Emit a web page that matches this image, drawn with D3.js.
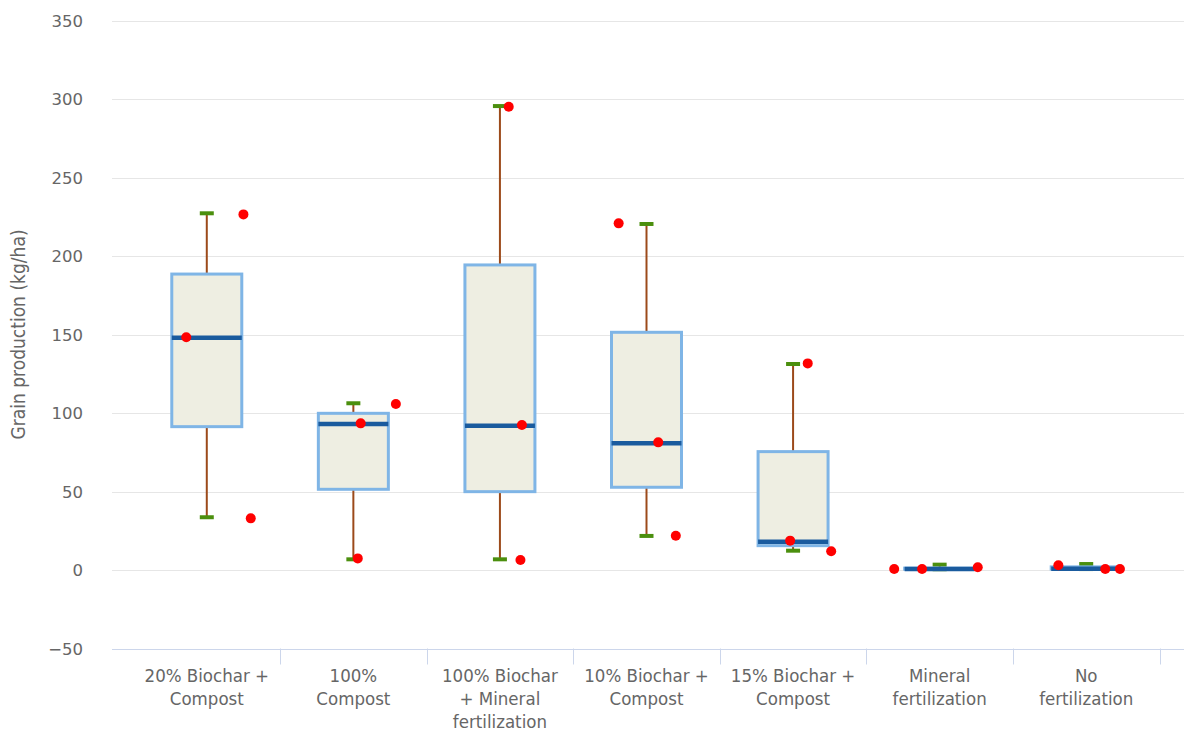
<!DOCTYPE html>
<html>
<head>
<meta charset="utf-8">
<script src="https://cdn.jsdelivr.net/npm/d3@7"></script>
<style>
  body { margin: 0; background: #fff; }
  svg { display: block; }
</style>
</head>
<body>
<div id="chart"></div>
<script>
const categories = [
  "20% Biochar + Compost",
  "100% Compost",
  "100% Biochar + Mineral fertilization",
  "10% Biochar + Compost",
  "15% Biochar + Compost",
  "Mineral fertilization",
  "No fertilization"
];
// label line breaks as shown
const categoryLines = [
  ["20% Biochar +", "Compost"],
  ["100%", "Compost"],
  ["100% Biochar", "+ Mineral", "fertilization"],
  ["10% Biochar +", "Compost"],
  ["15% Biochar +", "Compost"],
  ["Mineral", "fertilization"],
  ["No", "fertilization"]
];

// [low, q1, median, q3, high]
const boxLow    = [33.6,  6.8,  6.8, 21.7, 12.3, 0.5, 0.6];
const boxQ1     = [91.3, 51.4, 49.9, 52.7, 15.5, 0.5, 0.6];
const boxMedian = [148,  93,   91.9, 80.7, 18,   0.6, 0.8];
const boxQ3     = [188.5, 99.8, 194.3, 151.4, 75.4, 1.2, 2];
const boxHigh   = [227.2, 106.2, 295.5, 220.4, 131.2, 3.4, 3.8];

// observations, three per treatment
const obsValues = [
  [226.5, 148.2, 32.9],
  [105.7, 93.4, 7.4],
  [295.1, 92.4, 6.4],
  [220.8, 81.3, 21.8],
  [131.6, 18.7, 11.9],
  [0.6, 0.6, 1.7],
  [3, 0.6, 0.6]
];
// jitter in category units
const obsJitter = [
  [0.25, -0.14, 0.30],
  [0.29, 0.05, 0.03],
  [0.06, 0.15, 0.14],
  [-0.19, 0.08, 0.20],
  [0.10, -0.02, 0.26],
  [-0.31, -0.12, 0.26],
  [-0.19, 0.13, 0.23]
];

const yTicks = [-50, 0, 50, 100, 150, 200, 250, 300, 350];

const W = 1184, H = 731;
const plotLeft = 112, plotRight = 1184;

const svg = d3.select("#chart").append("svg")
  .attr("width", W)
  .attr("height", H);

const y = d3.scaleLinear().domain([-50, 350]).range([648.5, 20.5]);
const x = d3.scaleBand().domain(categories).range([133.5, 1159.5]).padding(0);
const bw = x.bandwidth();
const cx = i => x(categories[i]) + bw / 2;

// grid
svg.append("g").selectAll("line")
  .data(yTicks)
  .enter().append("line")
  .attr("x1", plotLeft).attr("x2", plotRight)
  .attr("y1", d => Math.round(y(d)) + 0.5)
  .attr("y2", d => Math.round(y(d)) + 0.5)
  .attr("stroke", "#e6e6e6")
  .attr("stroke-width", 1);

// y tick labels
svg.append("g").selectAll("text")
  .data(yTicks)
  .enter().append("text")
  .attr("x", 83)
  .attr("y", d => y(d) + 6)
  .attr("text-anchor", "end")
  .attr("font-family", "DejaVu Sans, sans-serif")
  .attr("font-size", "16.5px")
  .attr("fill", "#666")
  .text(d => d < 0 ? "\u2212" + Math.abs(d) : d);

// y title
svg.append("text")
  .attr("transform", `translate(25, ${y(150)}) rotate(-90)`)
  .attr("text-anchor", "middle")
  .attr("font-family", "Liberation Sans Narrow, DejaVu Sans Condensed, sans-serif")
  .attr("font-size", "19px")
  .attr("fill", "#666")
  .text("Grain production (kg/ha)");

// x axis line
svg.append("line")
  .attr("x1", plotLeft).attr("x2", plotRight)
  .attr("y1", Math.round(y(-50)) + 0.5).attr("y2", Math.round(y(-50)) + 0.5)
  .attr("stroke", "#ccd6eb")
  .attr("stroke-width", 1);

// x ticks at category boundaries
svg.append("g").selectAll("line")
  .data(categories)
  .enter().append("line")
  .attr("x1", d => Math.round(x(d) + bw) + 0.5)
  .attr("x2", d => Math.round(x(d) + bw) + 0.5)
  .attr("y1", y(-50))
  .attr("y2", y(-50) + 16)
  .attr("stroke", "#ccd6eb");

// x labels
const xl = svg.append("g").selectAll("text")
  .data(categoryLines)
  .enter().append("text")
  .attr("text-anchor", "middle")
  .attr("font-family", "Liberation Sans Narrow, DejaVu Sans Condensed, sans-serif")
  .attr("font-size", "18.5px")
  .attr("fill", "#666");
xl.each(function(lines, i) {
  d3.select(this).selectAll("tspan")
    .data(lines)
    .enter().append("tspan")
    .attr("x", cx(i))
    .attr("y", (d, j) => 682 + j * 23)
    .text(d => d);
});

// boxes
const boxW = 70, capW = 14;
const boxes = svg.append("g").selectAll("g")
  .data(categories)
  .enter().append("g");

// whisker stems
boxes.append("line")
  .attr("x1", (d, i) => cx(i)).attr("x2", (d, i) => cx(i))
  .attr("y1", (d, i) => y(boxHigh[i])).attr("y2", (d, i) => y(boxQ3[i]))
  .attr("stroke", "#9c4a1a").attr("stroke-width", 2);
boxes.append("line")
  .attr("x1", (d, i) => cx(i)).attr("x2", (d, i) => cx(i))
  .attr("y1", (d, i) => y(boxQ1[i])).attr("y2", (d, i) => y(boxLow[i]))
  .attr("stroke", "#9c4a1a").attr("stroke-width", 2);

// caps
boxes.append("line")
  .attr("x1", (d, i) => cx(i) - capW / 2).attr("x2", (d, i) => cx(i) + capW / 2)
  .attr("y1", (d, i) => y(boxHigh[i])).attr("y2", (d, i) => y(boxHigh[i]))
  .attr("stroke", "#4b8f0e").attr("stroke-width", 4);
boxes.append("line")
  .attr("x1", (d, i) => cx(i) - capW / 2).attr("x2", (d, i) => cx(i) + capW / 2)
  .attr("y1", (d, i) => y(boxLow[i])).attr("y2", (d, i) => y(boxLow[i]))
  .attr("stroke", "#4b8f0e").attr("stroke-width", 4);

// box body
boxes.append("rect")
  .attr("x", (d, i) => cx(i) - boxW / 2)
  .attr("width", boxW)
  .attr("y", (d, i) => y(boxQ3[i]))
  .attr("height", (d, i) => Math.max(0.5, y(boxQ1[i]) - y(boxQ3[i])))
  .attr("fill", "#eeeee2")
  .attr("stroke", "#7fb5e6")
  .attr("stroke-width", 3);

// median
boxes.append("line")
  .attr("x1", (d, i) => cx(i) - boxW / 2).attr("x2", (d, i) => cx(i) + boxW / 2)
  .attr("y1", (d, i) => y(boxMedian[i])).attr("y2", (d, i) => y(boxMedian[i]))
  .attr("stroke", "#1a5b9e").attr("stroke-width", 4.5);

// observations
const pts = [];
obsValues.forEach((vals, i) => vals.forEach((v, j) => pts.push({ i, v, jit: obsJitter[i][j] })));
svg.append("g").selectAll("circle")
  .data(pts)
  .enter().append("circle")
  .attr("cx", d => cx(d.i) + d.jit * bw)
  .attr("cy", d => y(d.v))
  .attr("r", 5)
  .attr("fill", "#ff0000");
</script>
</body>
</html>
